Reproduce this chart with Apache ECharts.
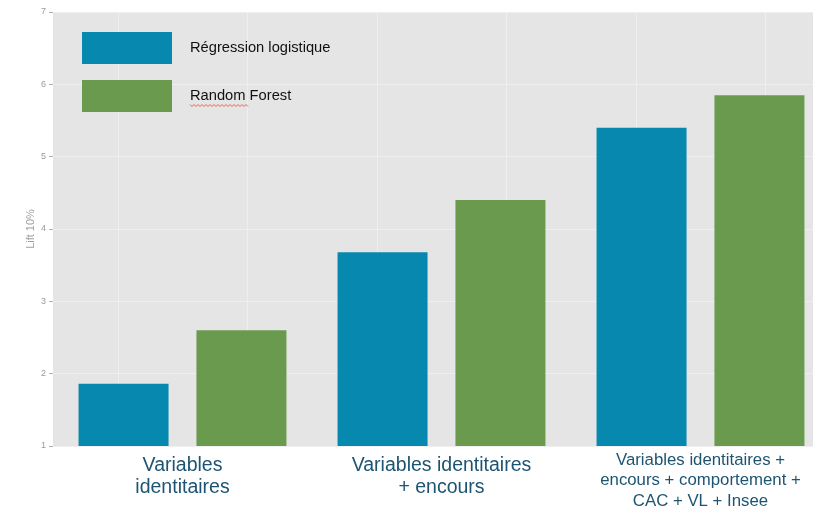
<!DOCTYPE html>
<html>
<head>
<meta charset="utf-8">
<script src="https://cdn.jsdelivr.net/npm/echarts@6/dist/echarts.min.js"></script>
<style>
  html, body { margin: 0; padding: 0; background: #ffffff; }
  #chart { width: 813px; height: 509px; }
</style>
</head>
<body>
<div id="chart"></div>
<script>
// Model groups (x categories)
const categories = [
  'Variables\nidentitaires',
  'Variables identitaires\n+ encours',
  'Variables identitaires +\nencours + comportement +\nCAC + VL + Insee'
];
// Series names
const seriesNames = ['Régression logistique', 'Random Forest'];
// Lift at 10% per model group
const logisticLift = [1.86, 3.68, 5.40];
const forestLift = [2.60, 4.40, 5.85];
// Y axis tick labels
const yTicks = [1, 2, 3, 4, 5, 6, 7];

const FONT = '"Liberation Sans", Arial, Helvetica, sans-serif';
const BLUE = '#0788AE';
const GREEN = '#6A9A4E';
const LABEL_BLUE = '#1D5472';
const PANEL = '#E5E5E5';
const GRIDLINE = '#EFEFEF';

// Hidden helper axis: 12 slots, gridlines on every other boundary
const helperSlots = new Array(categories.length * 4).fill('');

// Wavy spell-check underline beneath the word "Random" in the legend
function wavyPoints(x0, x1, y, amp, step) {
  const pts = [];
  let k = 0;
  for (let x = x0; x <= x1; x += step, k++) {
    pts.push([x, y + (k % 2 === 0 ? -amp : amp)]);
  }
  return pts;
}

const chart = echarts.init(document.getElementById('chart'), null, { renderer: 'canvas' });

chart.setOption({
  animation: false,
  backgroundColor: '#ffffff',
  textStyle: { fontFamily: FONT },
  grid: {
    left: 53,
    top: 12,
    width: 777,
    height: 434,
    outerBoundsMode: 'none',
    containLabel: false,
    show: true,
    backgroundColor: PANEL,
    borderWidth: 0
  },
  legend: {
    data: seriesNames,
    orient: 'vertical',
    left: 82,
    top: 32,
    padding: 0,
    icon: 'rect',
    itemWidth: 90,
    itemHeight: 32,
    itemGap: 16,
    selectedMode: false,
    textStyle: {
      fontFamily: FONT,
      fontSize: 14.7,
      color: '#111111',
      padding: [0, 0, 0, 13]
    }
  },
  graphic: [
    {
      type: 'polyline',
      silent: true,
      z: 100,
      shape: { points: wavyPoints(190, 248, 105.5, 1, 2) },
      style: { stroke: '#E0403A', lineWidth: 0.8, fill: null }
    }
  ],
  xAxis: [
    {
      type: 'category',
      data: categories,
      boundaryGap: true,
      axisLine: { show: false },
      axisTick: { show: false },
      splitLine: { show: false },
      axisLabel: {
        interval: 0,
        margin: 4,
        formatter: function (v) {
          const lines = v.split('\n');
          const style = lines.length > 2 ? 's' : 'b';
          const body = lines.map(function (l) { return '{' + style + '|' + l + '}'; }).join('\n');
          return style === 'b' ? '{g| }\n' + body : body;
        },
        rich: {
          b: { fontFamily: FONT, fontSize: 19.5, lineHeight: 21.5, color: LABEL_BLUE, align: 'center' },
          s: { fontFamily: FONT, fontSize: 16.8, lineHeight: 20.5, color: LABEL_BLUE, align: 'center' },
          g: { fontSize: 4, lineHeight: 5 }
        }
      }
    },
    {
      type: 'category',
      data: helperSlots,
      boundaryGap: true,
      position: 'bottom',
      axisLine: { show: false },
      axisTick: { show: false },
      axisLabel: { show: false },
      splitLine: {
        show: true,
        interval: function (i) { return i % 2 === 1; },
        lineStyle: { color: GRIDLINE, width: 1 }
      }
    }
  ],
  yAxis: {
    type: 'value',
    min: yTicks[0],
    max: yTicks[yTicks.length - 1],
    interval: 1,
    name: 'Lift 10%',
    nameLocation: 'middle',
    nameRotate: 90,
    nameGap: 17,
    nameMoveOverlap: false,
    nameTextStyle: { fontFamily: FONT, fontSize: 11, color: '#a0a0a0' },
    axisLine: { show: false },
    axisTick: { show: true, length: 4, lineStyle: { color: '#b0b0b0' } },
    axisLabel: { fontSize: 9, color: '#9a9a9a', margin: 7, fontFamily: FONT },
    splitLine: { show: true, lineStyle: { color: GRIDLINE, width: 1 } }
  },
  series: [
    {
      name: seriesNames[0],
      type: 'bar',
      xAxisIndex: 0,
      data: logisticLift,
      barWidth: 90,
      barGap: '31%',
      itemStyle: { color: BLUE }
    },
    {
      name: seriesNames[1],
      type: 'bar',
      xAxisIndex: 0,
      data: forestLift,
      barWidth: 90,
      barGap: '31%',
      itemStyle: { color: GREEN }
    }
  ]
});
</script>
</body>
</html>
